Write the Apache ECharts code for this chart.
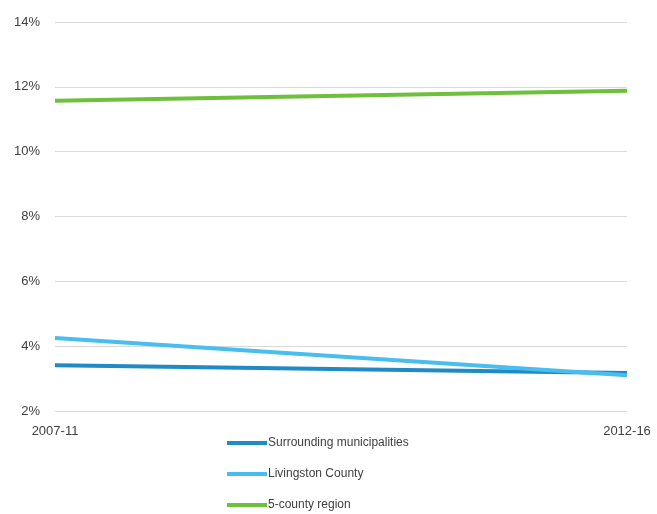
<!DOCTYPE html>
<html>
<head>
<meta charset="utf-8">
<script src="https://cdn.jsdelivr.net/npm/echarts@6/dist/echarts.min.js"></script>
<style>
  html, body { margin: 0; padding: 0; background: #fff; }
  #chart { width: 657px; height: 514px; }
</style>
</head>
<body>
<div id="chart"></div>
<script>
// Periods on the x axis
const periods = ['2007-11', '2012-16'];

// Share values (%) per area
const surrounding = [3.41, 3.17];
const livingston = [4.25, 3.10];
const region5 = [11.57, 11.88];

const seriesNames = ['Surrounding municipalities', 'Livingston County', '5-county region'];
const seriesColors = ['#1f8ac4', '#48bdf0', '#6dbf3c'];

const chart = echarts.init(document.getElementById('chart'));

function lineSeries(name, data, color) {
  return {
    name: name,
    type: 'line',
    data: data,
    symbol: 'none',
    lineStyle: { color: color, width: 4 },
    itemStyle: { color: color }
  };
}

chart.setOption({
  animation: false,
  grid: { left: 55, right: 30, top: 22, bottom: 103 },
  xAxis: {
    type: 'category',
    data: periods,
    boundaryGap: false,
    axisLine: { show: false },
    axisTick: { show: false },
    axisLabel: { color: '#404040', fontSize: 13, fontFamily: 'Liberation Sans', margin: 14 }
  },
  yAxis: {
    type: 'value',
    min: 2,
    max: 14,
    interval: 2,
    axisLine: { show: false },
    axisTick: { show: false },
    axisLabel: { color: '#404040', fontSize: 13, fontFamily: 'Liberation Sans', margin: 15, formatter: '{value}%' },
    splitLine: { lineStyle: { color: '#d9d9d9', width: 1 } }
  },
  legend: {
    orient: 'vertical',
    left: 227,
    top: 437,
    padding: 0,
    itemGap: 19,
    itemWidth: 40,
    itemHeight: 4,
    icon: 'rect',
    textStyle: { color: '#404040', fontSize: 12, fontFamily: 'Liberation Sans', padding: [0, 0, 0, -4] },
    data: seriesNames
  },
  series: [
    lineSeries(seriesNames[0], surrounding, seriesColors[0]),
    lineSeries(seriesNames[1], livingston, seriesColors[1]),
    lineSeries(seriesNames[2], region5, seriesColors[2])
  ]
});
</script>
</body>
</html>
